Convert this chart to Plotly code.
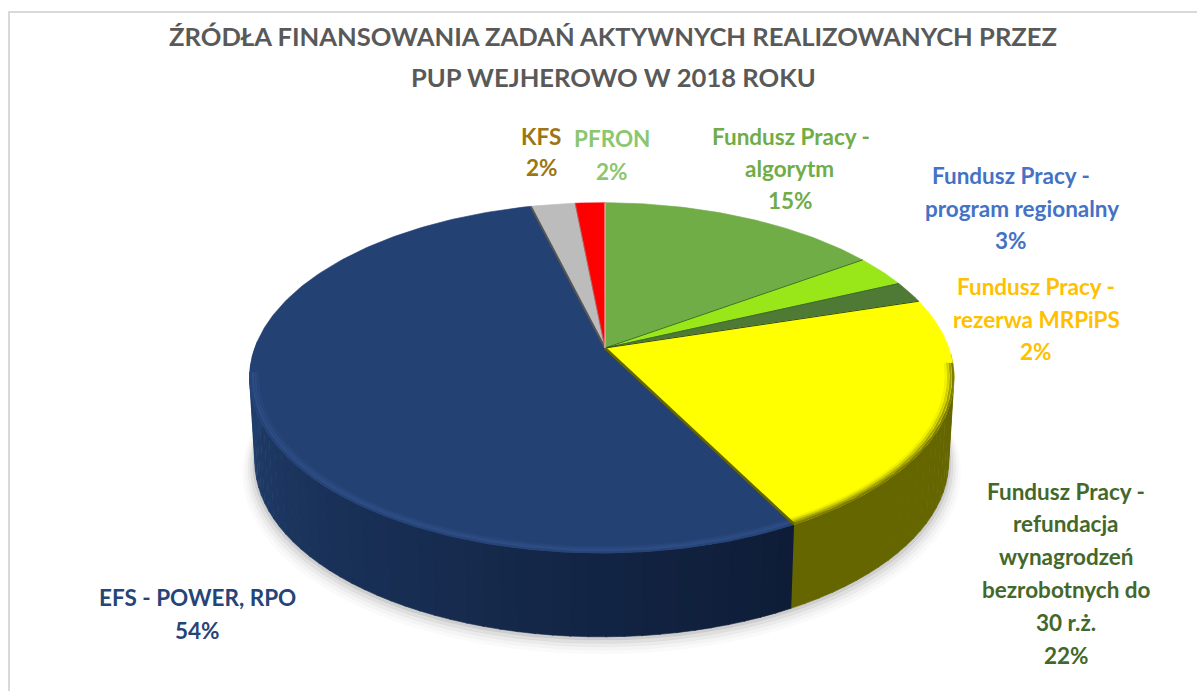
import numpy as np
import plotly.graph_objects as go

# ---- data (clockwise from 12 o'clock) ----
categories = ["Fundusz Pracy - algorytm", "Fundusz Pracy - program regionalny",
              "Fundusz Pracy - rezerwa MRPiPS",
              "Fundusz Pracy - refundacja wynagrodzeń bezrobotnych do 30 r.ż.",
              "EFS - POWER, RPO", "KFS", "PFRON"]
values = [15.3, 3.0, 2.0, 22.0, 53.7, 2.4, 1.6]
top_colors = ["#70ad47", "#99e619", "#4f7a36", "#ffff00", "#244173", "#bcbcbc", "#ff0000"]
title_lines = ["ŹRÓDŁA FINANSOWANIA ZADAŃ AKTYWNYCH REALIZOWANYCH PRZEZ",
               "PUP WEJHEROWO W 2018 ROKU"]

# ---- projection of the tilted disc ----
CX, CY, RX, RY, K, L, DEPTH, BOTTOM_SCALE = 605.0, 348.0, 347.0, 170.0, 0.17, 0.009, 84.0, 0.985


def project(t, r=1.0):
    u, v = r * np.sin(t), r * np.cos(t)
    w = 1 + K * v + L * u
    return CX + RX * u / w, CY - RY * v / w


def lower(t):
    x, y = project(t)
    return CX + (x - CX) * BOTTOM_SCALE, y + DEPTH


def mix(a, b, f):
    a = [int(a[i:i + 2], 16) for i in (1, 3, 5)]
    b = [int(b[i:i + 2], 16) for i in (1, 3, 5)]
    return "rgb(%d,%d,%d)" % tuple(round(p + (q - p) * f) for p, q in zip(a, b))


cum = np.concatenate([[0], np.cumsum(values)]) / sum(values) * 2 * np.pi
fig = go.Figure()


def poly(x, y, color):
    fig.add_trace(go.Scatter(x=list(x), y=list(y), mode="lines", fill="toself", fillcolor=color,
                             line=dict(color=color, width=0.6), hoverinfo="skip"))


def line(x, y, color, width):
    fig.add_trace(go.Scatter(x=list(x), y=list(y), mode="lines",
                             line=dict(color=color, width=width), hoverinfo="skip"))


# frame
line([1197, 9, 9], [12, 12, 691], "#d9d9d9", 2)

# soft shadow below the disc
full = np.linspace(0, 2 * np.pi, 200)
for grow, shift, alpha in [(1.035, 10, .018), (1.027, 8, .025), (1.02, 6, .035),
                           (1.013, 4, .05), (1.006, 2, .07)]:
    xs, ys = project(full)
    poly(CX + (xs - CX) * BOTTOM_SCALE * grow, CY + (ys - CY) * grow + DEPTH + shift,
         "rgba(0,0,0,%.3f)" % alpha)

# side walls: yellow and blue slices face the viewer
wall_start = np.radians(92)
wall_end = np.radians(272)
for i in range(len(values)):
    a0, a1 = max(cum[i], wall_start), min(cum[i + 1], wall_end)
    if a1 <= a0:
        continue
    n = 48 if i == 4 else 24
    edges = np.linspace(a0, a1, n + 1)
    for j in range(n):
        t = np.linspace(edges[j], edges[j + 1] + 0.003, 4)
        x0, y0 = project(t)
        x1, y1 = lower(t[::-1])
        if i == 4:
            c = mix("#0e1c37", "#21406f", j / (n - 1))
        else:
            c = mix(top_colors[i], "#000000", 0.6)
        poly(np.r_[x0, x1], np.r_[y0, y1], c)

# top faces
for i in range(len(values)):
    t = np.linspace(cum[i], cum[i + 1], max(6, int(values[i] * 4)))
    x, y = project(t)
    poly(np.r_[CX, x, CX], np.r_[CY, y, CY], top_colors[i])

# bevel along the rim
bevels = {3: ("#666600", [(.998, .85), (.991, .6), (.984, .32), (.977, .1)], 95, 400),
          4: ("#3a5f9e", [(.998, .1), (.991, .4), (.984, .3), (.977, .12)], 0, 262)}
for i, (edge, rings, lo, hi) in bevels.items():
    a0, a1 = max(cum[i], np.radians(lo)), min(cum[i + 1], np.radians(hi))
    t = np.linspace(a0, a1, 120)
    for r, f in rings[::-1]:
        x, y = project(t, r)
        line(x, y, mix(top_colors[i], edge, f), 2.2)

# slice separators
sep_colors = {1: ("#3f6b2a", 1), 2: ("#3f6b2a", 1), 3: ("#2c4a1c", 1), 4: ("#666600", 2.6),
              5: ("#555555", 2), 6: ("#8a8a8a", .6), 0: ("#f5d5d5", 1)}
for i, (c, w) in sep_colors.items():
    x, y = project(cum[i])
    line([CX, x], [CY, y], c, w)

# ---- text ----
FONT = "Lato, Carlito, Calibri, sans-serif"
label_lines = [
    ("KFS", 541, 136, "#9c7612"), ("2%", 542, 167, "#9c7612"),
    ("PFRON", 612, 138, "#8cc670"), ("2%", 612, 171, "#8cc670"),
    ("Fundusz Pracy -", 791, 136, "#70ad47"), ("algorytm", 789, 168, "#70ad47"), ("15%", 790, 200, "#70ad47"),
    ("Fundusz Pracy -", 1011, 175, "#4472c4"), ("program regionalny", 1022, 208, "#4472c4"), ("3%", 1011, 240, "#4472c4"),
    ("Fundusz Pracy -", 1036, 286, "#ffc000"), ("rezerwa MRPiPS", 1036, 319, "#ffc000"), ("2%", 1036, 351, "#ffc000"),
    ("Fundusz Pracy -", 1066, 491, "#43682b"), ("refundacja", 1066, 523, "#43682b"),
    ("wynagrodzeń", 1066, 556, "#43682b"), ("bezrobotnych do", 1066, 589, "#43682b"),
    ("30 r.ż.", 1066, 622, "#43682b"), ("22%", 1066, 655, "#43682b"),
    ("EFS - POWER, RPO", 197, 597, "#264478"), ("54%", 197, 630, "#264478"),
]
for s, x, y, c in label_lines:
    fig.add_annotation(x=x, y=y, text="<b>%s</b>" % s, showarrow=False, xanchor="center", yanchor="middle",
                       font=dict(family=FONT, size=22.5, color=c))
for s, y in zip(title_lines, [36, 77]):
    fig.add_annotation(x=613, y=y, text="<b>%s</b>" % s, showarrow=False, xanchor="center", yanchor="middle",
                       font=dict(family=FONT, size=25.6, color="#595959"))

fig.update_layout(width=1197, height=691, margin=dict(l=0, r=0, t=0, b=0), showlegend=False,
                  paper_bgcolor="white", plot_bgcolor="white",
                  xaxis=dict(range=[0, 1197], visible=False, fixedrange=True),
                  yaxis=dict(range=[691, 0], visible=False, fixedrange=True))
fig.write_html("out.html", config={"displayModeBar": False},
               post_script="document.body.style.margin='0';")
